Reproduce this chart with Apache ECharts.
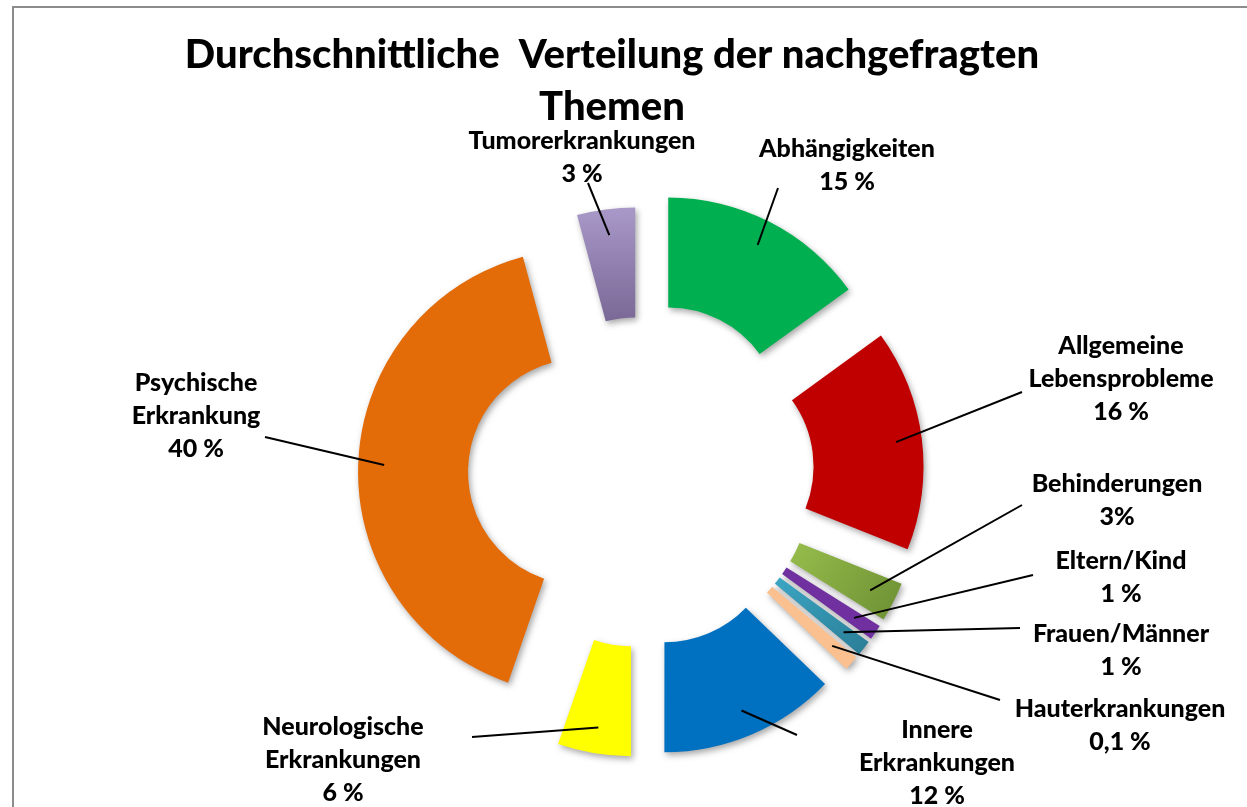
<!DOCTYPE html>
<html lang="de">
<head>
<meta charset="utf-8">
<title>Durchschnittliche Verteilung der nachgefragten Themen</title>
<script src="https://cdn.jsdelivr.net/npm/echarts@6/dist/echarts.min.js"></script>
<style>
  html, body { margin: 0; padding: 0; background: #fff; }
  #rahmen { position: absolute; left: 12px; top: 6px; width: 1250px; height: 820px;
            border-left: 2px solid #8c8c8c; border-top: 2px solid #8c8c8c; }
  #chart { position: absolute; left: 0; top: 0; width: 1247px; height: 807px; }
</style>
</head>
<body>
<div id="rahmen"></div>
<div id="chart"></div>
<script>
// Themen, im Uhrzeigersinn ab 12 Uhr
const themen = [
  'Abhängigkeiten',
  'Allgemeine\nLebensprobleme',
  'Behinderungen',
  'Eltern/Kind',
  'Frauen/Männer',
  'Hauterkrankungen',
  'Innere\nErkrankungen',
  'Neurologische\nErkrankungen',
  'Psychische\nErkrankung',
  'Tumorerkrankungen'
];
const anteile = [15.0, 16.05, 2.86, 1.1, 1.1, 1.1, 12.8, 5.3, 40.5, 4.2];
// Beschriftung, wie im Original gedruckt
const prozentText = ['15 %', '16 %', '3%', '1 %', '1 %', '0,1 %', '12 %', '6 %', '40 %', '3 %'];

const farben = [
  '#00b050', '#c00000',
  { type: 'linear', x: 0, y: 0, x2: 1, y2: 1, colorStops: [{ offset: 0, color: '#97bd4c' }, { offset: 1, color: '#6c8f33' }] },
  '#7030a0',
  { type: 'linear', x: 0, y: 0, x2: 1, y2: 1, colorStops: [{ offset: 0, color: '#3ba6c4' }, { offset: 1, color: '#2a7d96' }] },
  '#fac090', '#0070c0', '#ffff00', '#e36c09',
  { type: 'linear', x: 0, y: 0, x2: 0, y2: 1, colorStops: [{ offset: 0, color: '#a999c8' }, { offset: 1, color: '#7a6897' }] }
];

// Lage der Beschriftungen (Textmitte) und Endpunkte der Führungslinien
const LABEL_XY = [[847, 165], [1121, 379], [1117, 500], [1121, 577], [1121, 650],
                  [1120, 725], [937, 763], [343, 760], [196, 416], [582, 157]];
const LINE_END = [[778, 188], [1022, 392], [1022, 505], [1033, 575], [1020, 628],
                  [1000, 700], [797, 735], [472, 737], [265, 437], [588, 183]];
// Explosion je Segment (Tumor ist weniger weit herausgezogen)
const EXPLOSION = [60, 60, 60, 60, 60, 60, 60, 60, 60, 44];
const LINE_R = 197;     // Startradius der Führungslinie im Segment
const CENTER = [641, 474];
const RADIUS = [113, 223];

const chart = echarts.init(document.getElementById('chart'), null, { renderer: 'canvas' });
const unsichtbar = { color: 'rgba(0,0,0,0)', shadowBlur: 0, shadowOffsetX: 0, shadowOffsetY: 0 };
const schatten = { shadowBlur: 6, shadowColor: 'rgba(0,0,0,0.35)', shadowOffsetX: 2, shadowOffsetY: 3 };

// je Explosionsweite eine Ring-Serie; nur die zugehörigen Segmente sind sichtbar
const weiten = [...new Set(EXPLOSION)];
const ringSerien = weiten.map((w) => ({
  type: 'pie',
  center: CENTER,
  radius: RADIUS,
  startAngle: 90,
  clockwise: true,
  selectedMode: 'multiple',
  selectedOffset: w,
  silent: true,
  avoidLabelOverlap: false,
  emphasis: { disabled: true },
  label: { show: false },
  labelLine: { show: false },
  data: themen.map((n, i) => {
    const dabei = EXPLOSION[i] === w;
    return {
      name: n, value: anteile[i], selected: dabei,
      itemStyle: dabei ? Object.assign({ color: farben[i] }, schatten) : unsichtbar
    };
  })
}));
const labelIdx = ringSerien.length;

// Startpunkt der Führungslinie: im (verschobenen) Segment
function linienStart(i) {
  const lay = chart.getModel().getSeriesByIndex(labelIdx).getData().getItemLayout(i);
  const mid = (lay.startAngle + lay.endAngle) / 2;
  const d = EXPLOSION[i] + LINE_R;
  return [lay.cx + d * Math.cos(mid), lay.cy + d * Math.sin(mid)];
}

const font = { fontFamily: 'Lato', fontWeight: 900, color: '#000' };

chart.setOption({
  animation: false,
  title: {
    text: 'Durchschnittliche  Verteilung der nachgefragten\nThemen',
    left: 607, top: 24, textAlign: 'center',
    textStyle: Object.assign({ fontSize: 40, lineHeight: 52 }, font)
  },
  series: ringSerien.concat([{
    // unsichtbare Kopie, trägt Beschriftungen und Führungslinien
    type: 'pie',
    center: CENTER,
    radius: RADIUS,
    startAngle: 90,
    clockwise: true,
    silent: true,
    z: 5,
    avoidLabelOverlap: false,
    emphasis: { disabled: true },
    itemStyle: unsichtbar,
    label: Object.assign({
      show: true, position: 'outside', fontSize: 25, lineHeight: 33, align: 'center',
      formatter: (p) => p.name + '\n' + prozentText[p.dataIndex]
    }, font),
    labelLine: { show: true, lineStyle: { color: '#000', width: 2 } },
    labelLayout: (p) => {
      const i = p.dataIndex;
      return {
        x: LABEL_XY[i][0], y: LABEL_XY[i][1],
        align: 'center', verticalAlign: 'middle',
        labelLinePoints: [linienStart(i), LINE_END[i], LINE_END[i]]
      };
    },
    data: themen.map((n, i) => ({ name: n, value: anteile[i] }))
  }])
});
</script>
</body>
</html>
